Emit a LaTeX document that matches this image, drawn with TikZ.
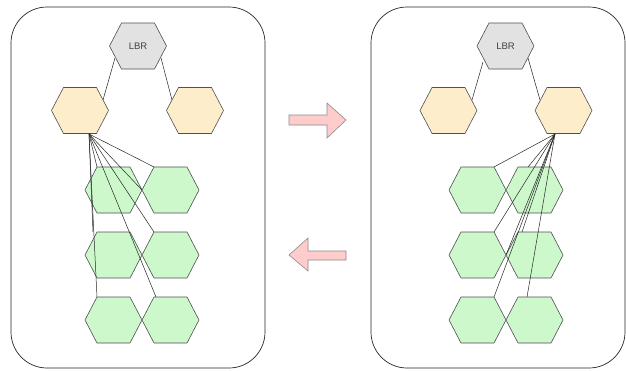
\documentclass[tikz,border=0pt]{standalone}
\usepackage{fontspec}
\setmainfont{Liberation Sans}
\usetikzlibrary{calc}
\definecolor{lbrfill}{HTML}{E2E2E2}
\definecolor{orfill}{HTML}{FDEDCA}
\definecolor{grfill}{HTML}{CCF8CC}
\definecolor{hexline}{HTML}{505050}
\definecolor{arrfill}{HTML}{FFCCCC}
\definecolor{arrline}{HTML}{8A8A8A}
\tikzset{
  panel/.style={draw=black!85, line width=0.7pt, fill=white, rounded corners=36pt},
  hexshape/.style={draw=hexline, line width=0.6pt},
  link/.style={draw=black!85, line width=0.5pt},
  fatarrow/.style={draw=arrline, fill=arrfill, line width=0.6pt, line join=miter},
  lbrtext/.style={font=\fontsize{9.5}{11}\selectfont, text=black!75}
}
\newcommand{\myhex}[4]{%
  \coordinate (#1) at (#2,#3);
  \draw[hexshape,#4] ($(#1)+(-28.5,0)$) -- ++(12,-23) -- ++(33,0) -- ++(12,23)
     -- ++(-12,23) -- ++(-33,0) -- cycle;
  \coordinate (#1-tl) at ($(#1)+(-16.5,-23)$);
  \coordinate (#1-tr) at ($(#1)+(16.5,-23)$);
  \coordinate (#1-l) at ($(#1)+(-28.5,0)$);
  \coordinate (#1-r) at ($(#1)+(28.5,0)$);
}
\begin{document}
\begin{tikzpicture}[x=1pt,y=-1pt]
\useasboundingbox (0,0) rectangle (626,370);
% panels
\draw[panel] (11,7) rectangle (265,368);
\draw[panel] (371,7) rectangle (625,368);

% ---------- left panel ----------
\coordinate (aLBRa) at (115,58);
\coordinate (aLBRb) at (161,58);
\coordinate (aOLa) at (103,100);
\coordinate (aORb) at (172,100);
\coordinate (aOrig) at (89,134);
\draw[link] (aLBRa) -- (aOLa);
\draw[link] (aLBRb) -- (aORb);
\myhex{aLBR}{138}{46}{fill=lbrfill}
\node[lbrtext] (aLBRt) at (aLBR) {LBR};
\myhex{aOL}{80}{110.5}{fill=orfill}
\myhex{aOR}{195}{110.5}{fill=orfill}
\myhex{aG11}{113.5}{190}{fill=grfill}
\myhex{aG12}{170.5}{190}{fill=grfill}
\myhex{aG21}{113.5}{255}{fill=grfill}
\myhex{aG22}{170.5}{255}{fill=grfill}
\myhex{aG31}{113.5}{320}{fill=grfill}
\myhex{aG32}{170.5}{320}{fill=grfill}
\coordinate (aT21) at (93,232);
\draw[link] (aOrig) -- (aG11-tl);
\draw[link] (aOrig) -- (aG12-tl);
\draw[link] (aOrig) -- (aG12-l);
\draw[link] (aOrig) -- (aT21);
\draw[link] (aOrig) -- (aG22-tl);
\draw[link] (aOrig) -- (aG31-tl);
\draw[link] (aOrig) -- ($(aG32-tl)+(2,0)$);

% ---------- right panel ----------
\coordinate (bLBRa) at (483,62);
\coordinate (bLBRb) at (528,58);
\coordinate (bOLa) at (472,100);
\coordinate (bORb) at (540,100);
\coordinate (bOrig) at (555,134);
\draw[link] (bLBRa) -- (bOLa);
\draw[link] (bLBRb) -- (bORb);
\myhex{bLBR}{505.5}{46}{fill=lbrfill}
\node[lbrtext] (bLBRt) at (bLBR) {LBR};
\myhex{bOL}{448.5}{110.5}{fill=orfill}
\myhex{bOR}{563.5}{110.5}{fill=orfill}
\myhex{bG11}{477.5}{190}{fill=grfill}
\myhex{bG12}{534.5}{190}{fill=grfill}
\myhex{bG21}{477.5}{255}{fill=grfill}
\myhex{bG22}{534.5}{255}{fill=grfill}
\myhex{bG31}{477.5}{320}{fill=grfill}
\myhex{bG32}{534.5}{320}{fill=grfill}
\coordinate (bT12) at (528,167);
\coordinate (bT22) at (522,232);
\coordinate (bT32) at (527,297);
\draw[link] (bOrig) -- (bG11-tr);
\draw[link] (bOrig) -- (bG21-tr);
\draw[link] (bOrig) -- (bG31-tr);
\draw[link] (bOrig) -- (bT12);
\draw[link] (bOrig) -- (bG22-l);
\draw[link] (bOrig) -- (bT22);
\draw[link] (bOrig) -- (bT32);

% ---------- arrows ----------
\draw[fatarrow] (289,115) -- (327,115) -- (327,103) -- (346,120) -- (327,138)
   -- (327,125) -- (289,125) -- cycle;
\draw[fatarrow] (346,251) -- (308,251) -- (308,238) -- (289,255) -- (308,271)
   -- (308,260) -- (346,260) -- cycle;
\end{tikzpicture}
\end{document}
